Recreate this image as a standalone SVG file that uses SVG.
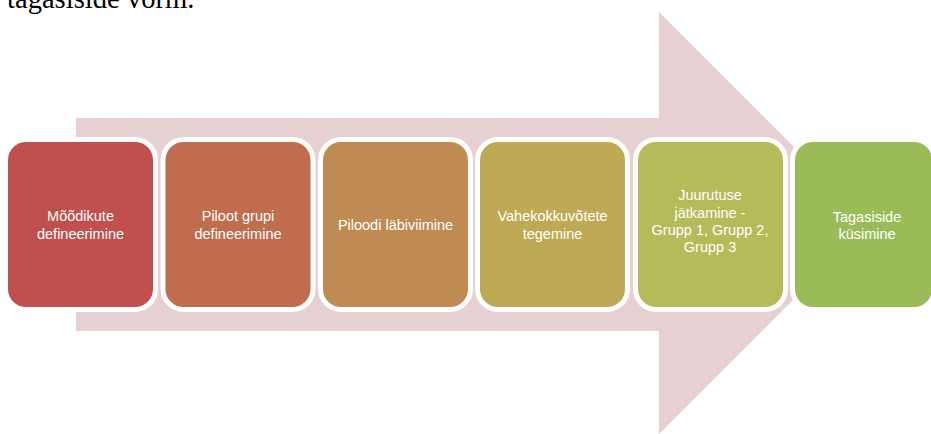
<svg xmlns="http://www.w3.org/2000/svg" width="931" height="434" viewBox="0 0 931 434">
  <style>
    .title { font-family: "Liberation Serif", "Times New Roman", serif; font-size: 28.6px; fill: #000; }
    .step rect { stroke: #fff; stroke-width: 10; paint-order: stroke; }
    .step text { font-family: "Liberation Sans", Arial, sans-serif; font-size: 14.5px; fill: #fff; text-anchor: middle; }
  </style>
  <rect width="931" height="434" fill="#fff"/>
  <text class="title" x="7" y="8">tagasiside vorm.</text>

  <!-- background block arrow -->
  <g id="arrow">
    <polygon points="76,118 659,118 659,12 870,223 659,434 659,331 76,331" fill="#E7D0D1"/>
  </g>

  <g id="step1" class="step">
    <rect x="8" y="142" width="145" height="165" rx="18" fill="#C0504D"/>
    <text x="80.5" y="221">Mõõdikute</text>
    <text x="80.5" y="239">defineerimine</text>
  </g>
  <g id="step2" class="step">
    <rect x="165.5" y="142" width="145" height="165" rx="18" fill="#C06D4F"/>
    <text x="238" y="221">Piloot grupi</text>
    <text x="238" y="239">defineerimine</text>
  </g>
  <g id="step3" class="step">
    <rect x="323" y="142" width="145" height="165" rx="18" fill="#BF8B52"/>
    <text x="395.5" y="230">Piloodi läbiviimine</text>
  </g>
  <g id="step4" class="step">
    <rect x="480" y="142" width="145" height="165" rx="18" fill="#BEAA55"/>
    <text x="552.5" y="221">Vahekokkuvõtete</text>
    <text x="552.5" y="239">tegemine</text>
  </g>
  <g id="step5" class="step">
    <rect x="638" y="142" width="145" height="165" rx="18" fill="#B5BB59"/>
    <text x="710" y="200">Juurutuse</text>
    <text x="710" y="218">jätkamine -</text>
    <text x="710" y="234.5">Grupp 1, Grupp 2,</text>
    <text x="710" y="252">Grupp 3</text>
  </g>
  <g id="step6" class="step">
    <rect x="795" y="142" width="137" height="165" rx="18" fill="#9BBB59"/>
    <text x="867" y="221.5">Tagasiside</text>
    <text x="867" y="239">küsimine</text>
  </g>
</svg>
